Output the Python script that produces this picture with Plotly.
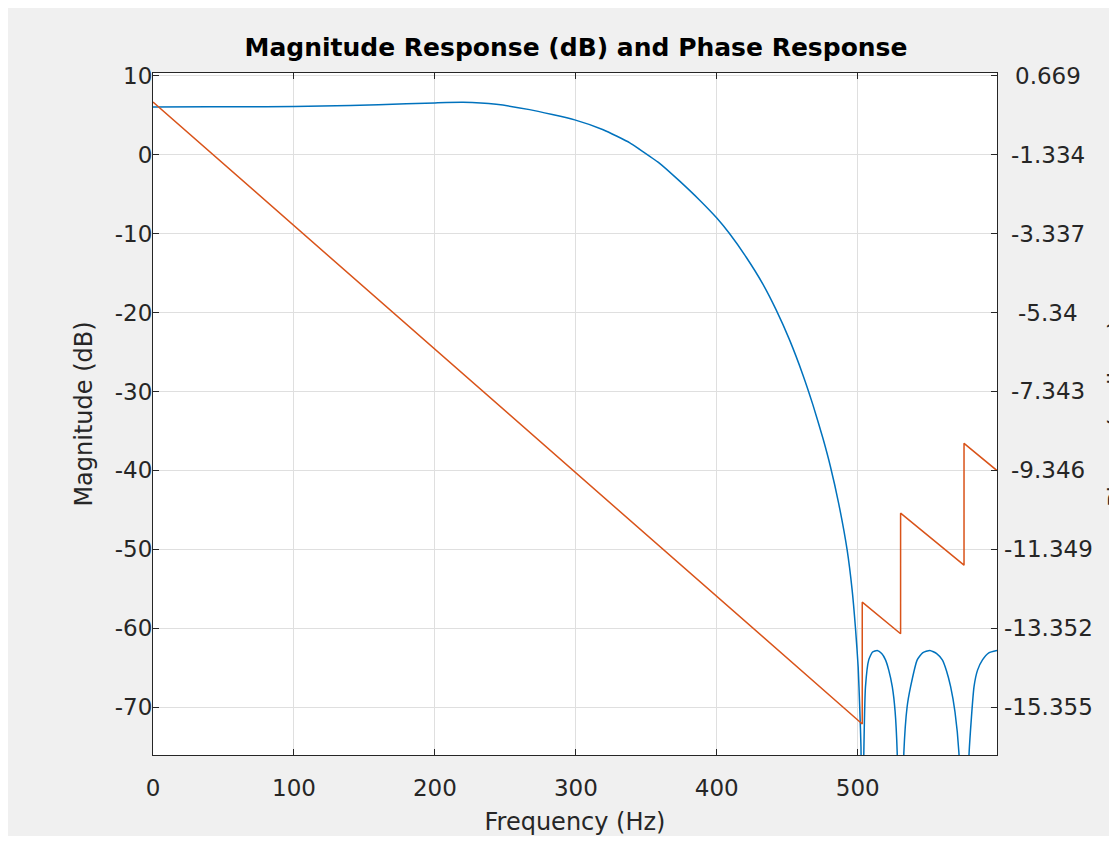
import plotly.graph_objects as go

# ---------------- data ----------------
mag_freq = [0, 40, 80, 120, 160, 200, 220, 243.5, 267.2, 299.2, 319.4, 338.3, 345, 359,
            373.5, 387.7, 400, 409, 420.9, 432.7, 442.2, 451.7, 461.1, 468.2, 475.4,
            480.6, 486.5, 492.5, 496.0, 498.4, 500.3, 501.4, 502.3, 503.2, 504.3,
            505.5, 507.8, 510.5, 513.8, 517.0, 519.7, 522.0, 524.5, 526.5, 528.0,
            530.4, 532.7, 535.0, 537.5, 542.2, 546.0, 551.2, 556.0, 560.0, 563.0,
            565.9, 569.0, 571.8, 575.4, 579.0, 582.5, 585.0, 588.5, 593.0, 598.8]
mag_db = [6.03, 6.05, 6.08, 6.15, 6.32, 6.55, 6.62, 6.37, 5.7, 4.4, 3.15, 1.5, 0.7, -1.04,
          -3.33, -5.75, -8.04, -10.0, -13.0, -16.4, -19.7, -23.5, -27.9, -31.7, -36.0,
          -39.5, -44.2, -50.1, -55.1, -60.0, -64.9, -70.0, -75.0, -100.0, -76.0,
          -67.4, -64.0, -63.0, -62.8, -63.2, -64.0, -65.3, -67.4, -70.5, -75.8,
          -100.0, -75.8, -70.0, -67.4, -64.0, -63.1, -62.8, -63.2, -64.0, -65.4,
          -67.4, -70.6, -75.8, -100.0, -75.8, -67.4, -65.3, -64.0, -63.1, -62.8]

phase_freq = [0, 503.2, 503.2, 530.4, 530.4, 575.4, 575.4, 598.8]
phase_rad = [0.0, -15.78, -12.69, -13.49, -10.43, -11.75, -8.66, -9.35]

x_ticks = [0, 100, 200, 300, 400, 500]
x_tick_labels = ["0", "100", "200", "300", "400", "500"]
left_ticks = [10, 0, -10, -20, -30, -40, -50, -60, -70]
left_tick_labels = ["10", "0", "-10", "-20", "-30", "-40", "-50", "-60", "-70"]
right_tick_labels = ["0.669", "-1.334", "-3.337", "-5.34", "-7.343",
                     "-9.346", "-11.349", "-13.352", "-15.355"]

# ---------------- layout geometry (page has an 8px body margin) ----------------
W, H = 1101, 828
ML, MR, MT, MB = 145, 112, 65, 81
PW, PH = W - ML - MR, H - MT - MB

x_range = [0, 598.8]
y_range = [-76.05, 10.34]
# right axis is a linear map of the left one (its ticks sit on the left grid)
r_top, r_bot = float(right_tick_labels[0]), float(right_tick_labels[-1])
slope = (r_top - r_bot) / (left_ticks[0] - left_ticks[-1])
offset = r_top - slope * left_ticks[0]
y2_range = [offset + slope * y_range[0], offset + slope * y_range[1]]
right_tick_vals = [offset + slope * v for v in left_ticks]

FONT = "DejaVu Sans"
AX = "#262626"
GRID = "#dfdfdf"

fig = go.Figure()
fig.add_trace(go.Scatter(x=mag_freq, y=mag_db, mode="lines",
                         line=dict(color="#0072BD", width=1.5, shape="spline", smoothing=0.5),
                         name="Magnitude", showlegend=False))
fig.add_trace(go.Scatter(x=phase_freq, y=phase_rad, mode="lines", yaxis="y2",
                         line=dict(color="#D95319", width=1.5),
                         name="Phase", showlegend=False))


def px_x(p):
    return (p - ML) / PW


annotations = []
for v, t in zip(right_tick_vals, right_tick_labels):
    annotations.append(dict(x=px_x(1040), y=v, xref="paper", yref="y2", text=t,
                            showarrow=False, xanchor="center", yanchor="middle",
                            font=dict(family=FONT, size=23, color=AX)))
annotations.append(dict(x=px_x(1094), y=0.5, xref="paper", yref="paper",
                        text="Phase (radians)", textangle=-90, showarrow=False,
                        xanchor="left", yanchor="middle",
                        font=dict(family=FONT, size=24, color=AX)))

fig.update_layout(
    width=W, height=H,
    margin=dict(l=ML, r=MR, t=MT, b=MB, autoexpand=False),
    paper_bgcolor="#f0f0f0", plot_bgcolor="white",
    font=dict(family=FONT, color=AX),
    title=dict(text="<b>Magnitude Response (dB) and Phase Response</b>",
               x=px_x(568), xref="paper", xanchor="center",
               y=1 - 39.5 / H, yref="container", yanchor="middle",
               font=dict(family=FONT, size=25, color="#000000")),
    xaxis=dict(range=x_range, tickvals=x_ticks, ticktext=x_tick_labels,
               showgrid=True, gridcolor=GRID, gridwidth=1,
               zeroline=False, showline=True, linecolor=AX, linewidth=1, mirror="ticks",
               ticks="inside", ticklen=6, tickcolor=AX, tickwidth=1,
               ticklabelstandoff=12,
               tickfont=dict(family=FONT, size=23, color=AX),
               title=dict(text="Frequency (Hz)", font=dict(family=FONT, size=24, color=AX),
                          standoff=18)),
    yaxis=dict(range=y_range, tickvals=left_ticks, ticktext=left_tick_labels,
               showgrid=True, gridcolor=GRID, gridwidth=1,
               zeroline=False, showline=True, linecolor=AX, linewidth=1, mirror=True,
               ticks="inside", ticklen=6, tickcolor=AX, tickwidth=1,
               ticklabelstandoff=-5,
               tickfont=dict(family=FONT, size=23, color=AX),
               title=dict(text="Magnitude (dB)", font=dict(family=FONT, size=24, color=AX),
                          standoff=15)),
    yaxis2=dict(range=y2_range, tickvals=right_tick_vals, overlaying="y", side="right",
                showgrid=False, zeroline=False, showline=False,
                ticks="inside", ticklen=6, tickcolor=AX, tickwidth=1,
                showticklabels=False),
    annotations=annotations,
)

fig.write_html("out.html")
